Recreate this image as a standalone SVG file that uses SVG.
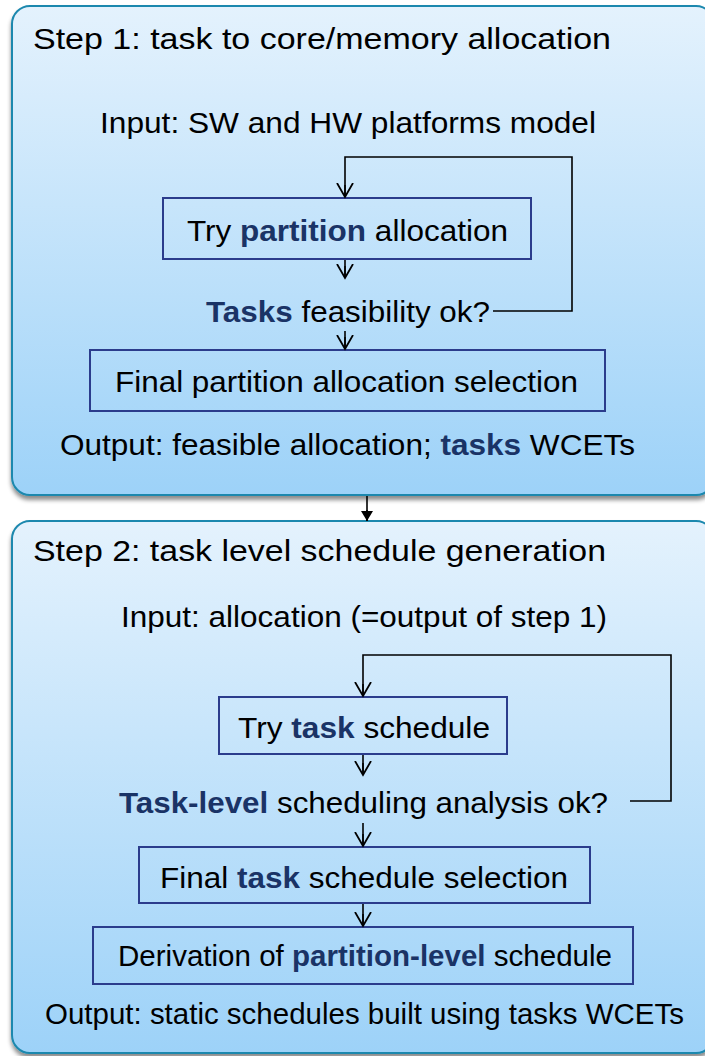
<svg xmlns="http://www.w3.org/2000/svg" width="705" height="1056" viewBox="0 0 705 1056">
<defs>
<linearGradient id="bg" x1="0" y1="0" x2="0" y2="1">
<stop offset="0" stop-color="#e4f2fd"/>
<stop offset="1" stop-color="#9dd2f8"/>
</linearGradient>
<filter id="sh" x="-5%" y="-5%" width="110%" height="110%">
<feDropShadow dx="0" dy="4" stdDeviation="2" flood-color="#000" flood-opacity="0.45"/>
</filter>
<marker id="v" markerUnits="userSpaceOnUse" markerWidth="20" markerHeight="16" refX="10" refY="14.5" orient="0" viewBox="0 0 20 16">
<path d="M2,0.5 L10,14.5 L18,0.5" fill="none" stroke="#000" stroke-width="1.8"/>
</marker>
<marker id="tri" markerUnits="userSpaceOnUse" markerWidth="12" markerHeight="12" refX="6" refY="10" orient="0" viewBox="0 0 12 12">
<path d="M0,0 L12,0 L6,10 Z" fill="#000"/>
</marker>
</defs>
<style>
.outer{fill:url(#bg);stroke:#1b88ae;stroke-width:2;filter:url(#sh)}
.box{fill:none;stroke:#2b3c8c;stroke-width:2}
.t{font-family:"Liberation Sans",Arial,sans-serif;font-size:30px;fill:#000}
.b{font-weight:bold;fill:#1a3366}
.ln{fill:none;stroke:#000;stroke-width:1.6}
</style>
<g id="step1">
<rect class="outer" x="12" y="6" width="702" height="489" rx="18"/>
<text class="t" x="33" y="49" textLength="578" lengthAdjust="spacingAndGlyphs">Step 1: task to core/memory allocation</text>
<text class="t" x="100" y="133" textLength="496" lengthAdjust="spacingAndGlyphs">Input: SW and HW platforms model</text>
</g>
<g id="step2">
<rect class="outer" x="12" y="521" width="702" height="532" rx="18"/>
<text class="t" x="33" y="561" textLength="573" lengthAdjust="spacingAndGlyphs">Step 2: task level schedule generation</text>
<text class="t" x="121" y="627" textLength="486" lengthAdjust="spacingAndGlyphs">Input: allocation (=output of step 1)</text>
</g>
<g id="try-partition">
<rect class="box" x="163" y="198" width="368" height="61"/>
<text class="t" x="187" y="241" textLength="321" lengthAdjust="spacingAndGlyphs">Try <tspan class="b">partition</tspan> allocation</text>
</g>
<g id="tasks-feasibility">
<text class="t" x="206" y="322" textLength="284" lengthAdjust="spacingAndGlyphs"><tspan class="b">Tasks</tspan> feasibility ok?</text>
</g>
<g id="final-partition">
<rect class="box" x="90" y="350" width="515" height="61"/>
<text class="t" x="115" y="392" textLength="463" lengthAdjust="spacingAndGlyphs">Final partition allocation selection</text>
</g>
<g id="output1">
<text class="t" x="60" y="455" textLength="575" lengthAdjust="spacingAndGlyphs">Output: feasible allocation; <tspan class="b">tasks</tspan> WCETs</text>
</g>
<g id="try-task">
<rect class="box" x="219" y="697" width="288" height="57"/>
<text class="t" x="238" y="738" textLength="252" lengthAdjust="spacingAndGlyphs">Try <tspan class="b">task</tspan> schedule</text>
</g>
<g id="task-level">
<text class="t" x="119" y="813" textLength="489" lengthAdjust="spacingAndGlyphs"><tspan class="b">Task-level</tspan> scheduling analysis ok?</text>
</g>
<g id="final-task">
<rect class="box" x="139" y="847" width="451" height="56"/>
<text class="t" x="160" y="888" textLength="408" lengthAdjust="spacingAndGlyphs">Final <tspan class="b">task</tspan> schedule selection</text>
</g>
<g id="derivation">
<rect class="box" x="93" y="927" width="540" height="57"/>
<text class="t" x="118" y="966" textLength="494" lengthAdjust="spacingAndGlyphs">Derivation of <tspan class="b">partition-level</tspan> schedule</text>
</g>
<g id="output2">
<text class="t" x="45" y="1024" textLength="639" lengthAdjust="spacingAndGlyphs">Output: static schedules built using tasks WCETs</text>
</g>
<g id="connectors">
<path class="ln" d="M493,311 H572 V157 H345 V197"/>
<path class="ln" d="M345,260 V278"/>
<path class="ln" d="M345,331 V349"/>
<path class="ln" d="M367,496 V521"/>
<path class="ln" d="M630,801 H671 V655 H363 V696"/>
<path class="ln" d="M363,755 V775"/>
<path class="ln" d="M363,823 V846"/>
<path class="ln" d="M363,904 V926"/>
<g marker-end="url(#v)">
<path class="ln" d="M345,185 V197"/>
<path class="ln" d="M345,266 V278"/>
<path class="ln" d="M345,337 V349"/>
<path class="ln" d="M363,684 V696"/>
<path class="ln" d="M363,763 V775"/>
<path class="ln" d="M363,834 V846"/>
<path class="ln" d="M363,914 V926"/>
</g>
<path class="ln" d="M367,510 V521" marker-end="url(#tri)"/>
</g>
</svg>
